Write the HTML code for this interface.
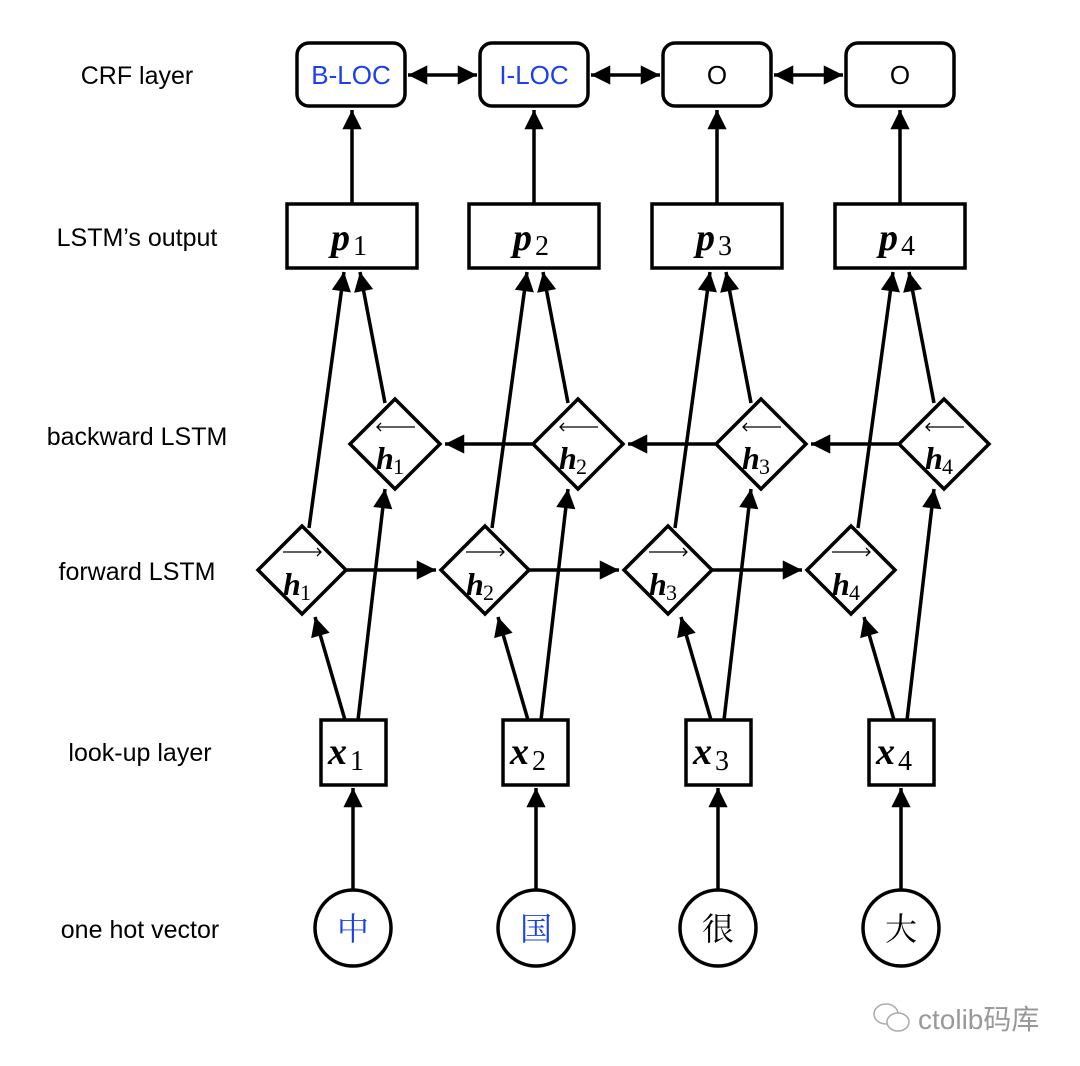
<!DOCTYPE html>
<html><head><meta charset="utf-8"><style>
html,body{margin:0;padding:0;background:#fff;}
svg{display:block;}
.lbl{font-family:"Liberation Sans",sans-serif;font-size:25px;fill:#000;text-anchor:middle;}
.m{font-family:"Liberation Serif",serif;font-style:italic;font-weight:bold;fill:#000;}
.s{font-family:"Liberation Serif",serif;fill:#000;}
</style></head><body>
<svg width="1080" height="1066" viewBox="0 0 1080 1066" xmlns="http://www.w3.org/2000/svg">
<defs>
<marker id="a" viewBox="0 0 10 10" refX="10" refY="5" markerWidth="6" markerHeight="5.5" orient="auto-start-reverse" markerUnits="strokeWidth"><path d="M0,0L10,5L0,10z" fill="#000"/></marker>
</defs>
<g class="lbl">
<text x="137" y="84">CRF layer</text>
<text x="137" y="246">LSTM’s output</text>
<text x="137" y="445">backward LSTM</text>
<text x="137" y="580">forward LSTM</text>
<text x="140" y="761">look-up layer</text>
<text x="140" y="938">one hot vector</text>
</g>
<g stroke="#000" stroke-width="3.5" fill="#fff">
<rect x="297" y="43" width="108" height="63" rx="12"/>
<rect x="480" y="43" width="108" height="63" rx="12"/>
<rect x="663" y="43" width="108" height="63" rx="12"/>
<rect x="846" y="43" width="108" height="63" rx="12"/>
<rect x="287" y="204" width="130" height="64"/>
<rect x="469" y="204" width="130" height="64"/>
<rect x="652" y="204" width="130" height="64"/>
<rect x="835" y="204" width="130" height="64"/>
<rect x="321" y="720" width="65" height="65"/>
<rect x="503" y="720" width="65" height="65"/>
<rect x="686" y="720" width="65" height="65"/>
<rect x="869" y="720" width="65" height="65"/>
<circle cx="353" cy="928" r="38"/>
<circle cx="536" cy="928" r="38"/>
<circle cx="718" cy="928" r="38"/>
<circle cx="901" cy="928" r="38"/>
</g>
<g stroke="#000" stroke-width="3.5" fill="none" marker-end="url(#a)">
<line x1="408" y1="75" x2="477" y2="75" marker-start="url(#a)"/>
<line x1="591" y1="75" x2="660" y2="75" marker-start="url(#a)"/>
<line x1="774" y1="75" x2="843" y2="75" marker-start="url(#a)"/>
<line x1="352" y1="204" x2="352" y2="110"/>
<line x1="534" y1="204" x2="534" y2="110"/>
<line x1="717" y1="204" x2="717" y2="110"/>
<line x1="900" y1="204" x2="900" y2="110"/>
<line x1="353" y1="890" x2="353" y2="788"/>
<line x1="536" y1="890" x2="536" y2="788"/>
<line x1="718" y1="890" x2="718" y2="788"/>
<line x1="901" y1="890" x2="901" y2="788"/>
<line x1="346" y1="570" x2="436" y2="570"/>
<line x1="529" y1="570" x2="619" y2="570"/>
<line x1="712" y1="570" x2="802" y2="570"/>
<line x1="532" y1="444" x2="445" y2="444"/>
<line x1="715" y1="444" x2="628" y2="444"/>
<line x1="898" y1="444" x2="811" y2="444"/>
</g>
<g stroke="#000" stroke-width="3.5" fill="none" marker-end="url(#a)" id="col">
<line x1="345" y1="720" x2="315" y2="617"/>
<line x1="358" y1="720" x2="385" y2="489"/>
<line x1="309" y1="528" x2="344" y2="272"/>
<line x1="385" y1="403" x2="360" y2="272"/>
</g>
<use href="#col" x="183"/>
<use href="#col" x="366"/>
<use href="#col" x="549"/>
<g stroke="#000" stroke-width="3.5" fill="#fff">
<polygon points="395,399 440,444 395,489 350,444"/>
<polygon points="578,399 623,444 578,489 533,444"/>
<polygon points="761,399 806,444 761,489 716,444"/>
<polygon points="944,399 989,444 944,489 899,444"/>
<polygon points="302,526 346,570 302,614 258,570"/>
<polygon points="485,526 529,570 485,614 441,570"/>
<polygon points="668,526 712,570 668,614 624,570"/>
<polygon points="851,526 895,570 851,614 807,570"/>
</g>
<g font-family="Liberation Sans,sans-serif" font-size="26" text-anchor="middle">
<text x="351" y="84" fill="#1a3ff0">B-LOC</text>
<text x="534" y="84" fill="#1a3ff0">I-LOC</text>
<text x="717" y="84">O</text>
<text x="900" y="84">O</text>
</g>
<g font-size="38">
<text x="331" y="250" class="m">p</text><text x="353" y="255" class="s" font-size="28">1</text>
<text x="513" y="250" class="m">p</text><text x="535" y="255" class="s" font-size="28">2</text>
<text x="696" y="250" class="m">p</text><text x="718" y="255" class="s" font-size="28">3</text>
<text x="879" y="250" class="m">p</text><text x="901" y="255" class="s" font-size="28">4</text>
<text x="328" y="764" class="m">x</text><text x="350" y="770" class="s" font-size="28">1</text>
<text x="510" y="764" class="m">x</text><text x="532" y="770" class="s" font-size="28">2</text>
<text x="693" y="764" class="m">x</text><text x="715" y="770" class="s" font-size="28">3</text>
<text x="876" y="764" class="m">x</text><text x="898" y="770" class="s" font-size="28">4</text>
</g>
<g font-size="32">
<text x="376" y="469" class="m">h</text><text x="393" y="474" class="s" font-size="22">1</text>
<text x="559" y="469" class="m">h</text><text x="576" y="474" class="s" font-size="22">2</text>
<text x="742" y="469" class="m">h</text><text x="759" y="474" class="s" font-size="22">3</text>
<text x="925" y="469" class="m">h</text><text x="942" y="474" class="s" font-size="22">4</text>
<text x="283" y="595" class="m">h</text><text x="300" y="600" class="s" font-size="22">1</text>
<text x="466" y="595" class="m">h</text><text x="483" y="600" class="s" font-size="22">2</text>
<text x="649" y="595" class="m">h</text><text x="666" y="600" class="s" font-size="22">3</text>
<text x="832" y="595" class="m">h</text><text x="849" y="600" class="s" font-size="22">4</text>
</g>
<g stroke="#000" stroke-width="1.3" fill="none">
<path d="M377,427h38M381,423l-4,4l4,4"/>
<path d="M560,427h38M564,423l-4,4l4,4"/>
<path d="M743,427h38M747,423l-4,4l4,4"/>
<path d="M926,427h38M930,423l-4,4l4,4"/>
<path d="M283,552h38M317,548l4,4l-4,4"/>
<path d="M466,552h38M500,548l4,4l-4,4"/>
<path d="M649,552h38M683,548l4,4l-4,4"/>
<path d="M832,552h38M866,548l4,4l-4,4"/>
</g>
<g font-family="'Liberation Serif','Noto Serif CJK SC',serif" font-size="32" text-anchor="middle">
<text x="353" y="940" fill="#1a3ff0">中</text>
<text x="536" y="940" fill="#1a3ff0">国</text>
<text x="718" y="940">很</text>
<text x="901" y="940">大</text>
</g>
<g stroke="#aaa" stroke-width="1.5" fill="#fff">
<ellipse cx="886" cy="1014" rx="12" ry="10"/>
<ellipse cx="898" cy="1022" rx="11" ry="9"/>
</g>
<text x="918" y="1029" font-family="'Liberation Sans','Noto Sans CJK SC',sans-serif" font-size="28" fill="#999">ctolib码库</text>
</svg>
</body></html>
